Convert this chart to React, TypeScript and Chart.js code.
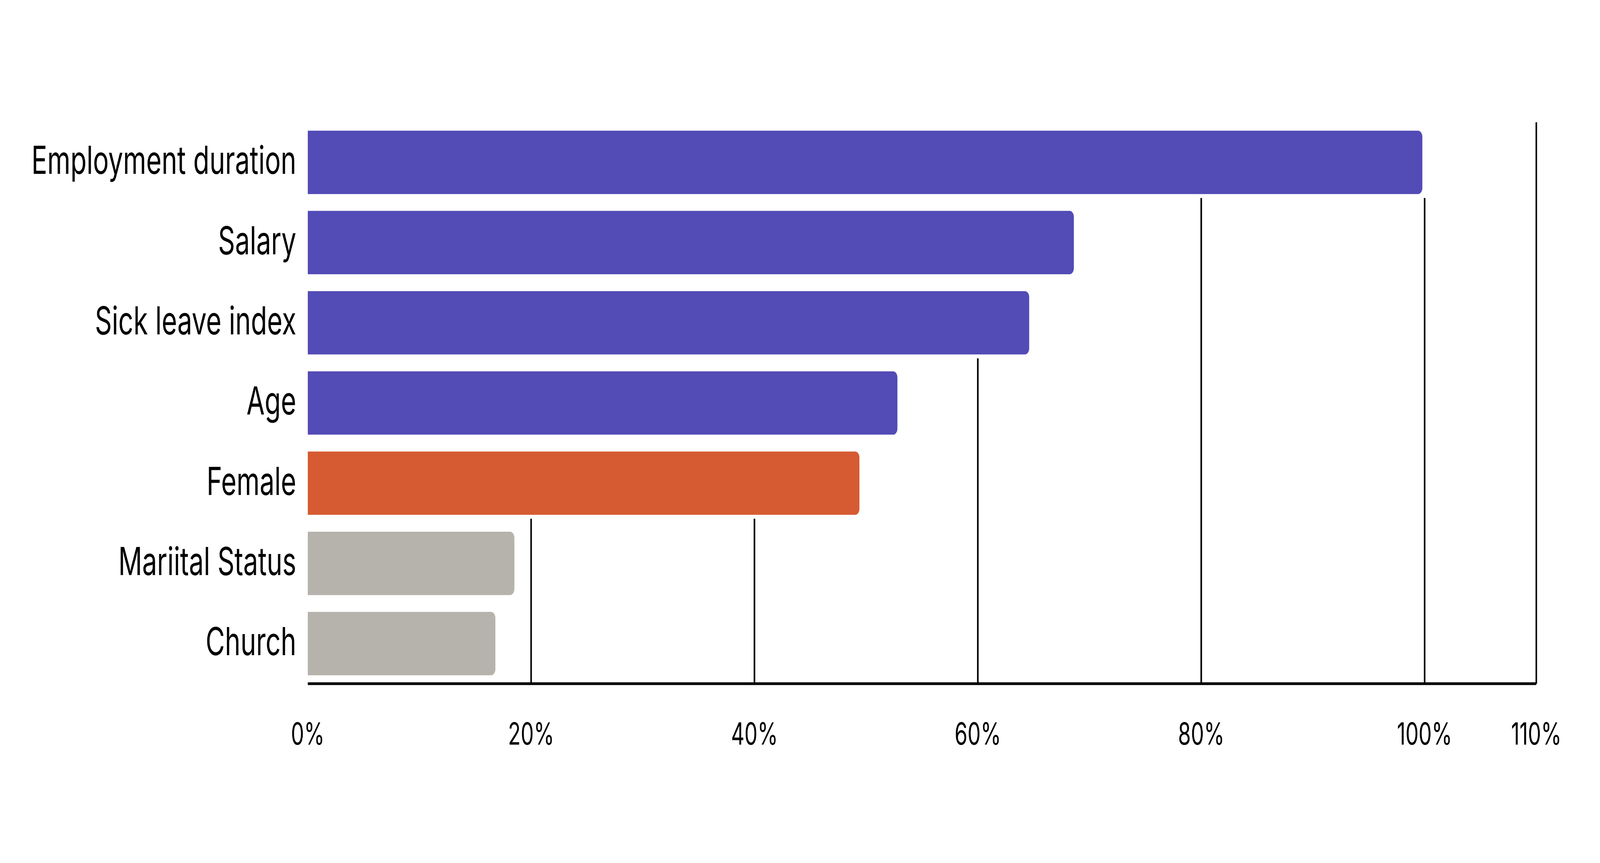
import React, { useEffect, useRef } from 'react';
import Chart from 'chart.js/auto';

const categories = [
  'Employment duration',
  'Salary',
  'Sick leave index',
  'Age',
  'Female',
  'Mariital Status',
  'Church',
];

const importance = [99.8, 68.6, 64.6, 52.8, 49.4, 18.5, 16.8];

const xTicks = [0, 20, 40, 60, 80, 100, 110];

const barColors = [
  '#534BB6', // purple
  '#534BB6',
  '#534BB6',
  '#534BB6',
  '#D65A32', // orange
  '#B5B3AB', // grey
  '#B5B3AB',
];

// drawing size; the canvas is stretched over the whole window
const W = 6000;
const H = 2209;

// vertical lines rise from the axis and stop just under the lowest bar that crosses them
const gridPlugin = {
  id: 'stubGrid',
  beforeDatasetsDraw(chart: any) {
    const { ctx, chartArea, scales } = chart;
    const meta = chart.getDatasetMeta(0);
    ctx.save();
    ctx.strokeStyle = '#000';
    ctx.lineWidth = 6;
    xTicks.forEach((t) => {
      if (t === 0) return;
      const x = scales.x.getPixelForValue(t);
      let top = chartArea.top;
      importance.forEach((v, i) => {
        if (v >= t - 1) {
          const bar = meta.data[i];
          const bottom = bar.y + bar.height / 2 + 10;
          if (bottom > top) top = bottom;
        }
      });
      ctx.beginPath();
      ctx.moveTo(x, top);
      ctx.lineTo(x, chartArea.bottom);
      ctx.stroke();
    });
    ctx.lineWidth = 7;
    ctx.beginPath();
    ctx.moveTo(chartArea.left, chartArea.bottom);
    ctx.lineTo(chartArea.right, chartArea.bottom);
    ctx.stroke();
    ctx.restore();
  },
};

const App: React.FC = () => {
  const chartRef = useRef<HTMLCanvasElement | null>(null);
  const chartInstance = useRef<Chart | null>(null);

  useEffect(() => {
    document.body.style.margin = '0';
    const canvas = chartRef.current;
    if (canvas) {
      if (chartInstance.current) {
        chartInstance.current.destroy();
      }

      chartInstance.current = new Chart(canvas, {
        type: 'bar',
        data: {
          labels: categories,
          datasets: [
            {
              data: importance,
              backgroundColor: barColors,
              borderWidth: 0,
              borderRadius: 16,
              categoryPercentage: 1,
              barPercentage: 0.79,
            },
          ],
        },
        options: {
          indexAxis: 'y',
          responsive: false,
          devicePixelRatio: 1,
          animation: false,
          layout: {
            padding: { top: 313, right: 239, left: 0, bottom: 0 },
          },
          plugins: {
            legend: { display: false },
            tooltip: { enabled: false },
          },
          scales: {
            x: {
              type: 'linear',
              min: 0,
              max: 110,
              afterBuildTicks: (axis: any) => {
                axis.ticks = xTicks.map((v) => ({ value: v }));
              },
              afterFit: (axis: any) => {
                axis.height = H - 1750;
              },
              grid: { display: false, drawTicks: false },
              border: { display: false },
              ticks: {
                padding: 86,
                color: '#000',
                maxRotation: 0,
                autoSkip: false,
                font: { family: 'Inter', size: 78 },
                callback: (v: any) => `${v}%`,
              },
            },
            y: {
              afterFit: (axis: any) => {
                axis.width = 1154;
              },
              grid: { display: false, drawTicks: false },
              border: { display: false },
              ticks: {
                padding: 43,
                color: '#000',
                font: { family: 'Inter', size: 99 },
              },
            },
          },
        },
        plugins: [gridPlugin],
      });
    }

    return () => {
      if (chartInstance.current) {
        chartInstance.current.destroy();
      }
    };
  }, []);

  return (
    <div style={{ background: '#fff' }}>
      <canvas
        ref={chartRef}
        width={W}
        height={H}
        style={{ width: '100vw', height: '100vh', display: 'block' }}
      ></canvas>
    </div>
  );
};

export default App;
